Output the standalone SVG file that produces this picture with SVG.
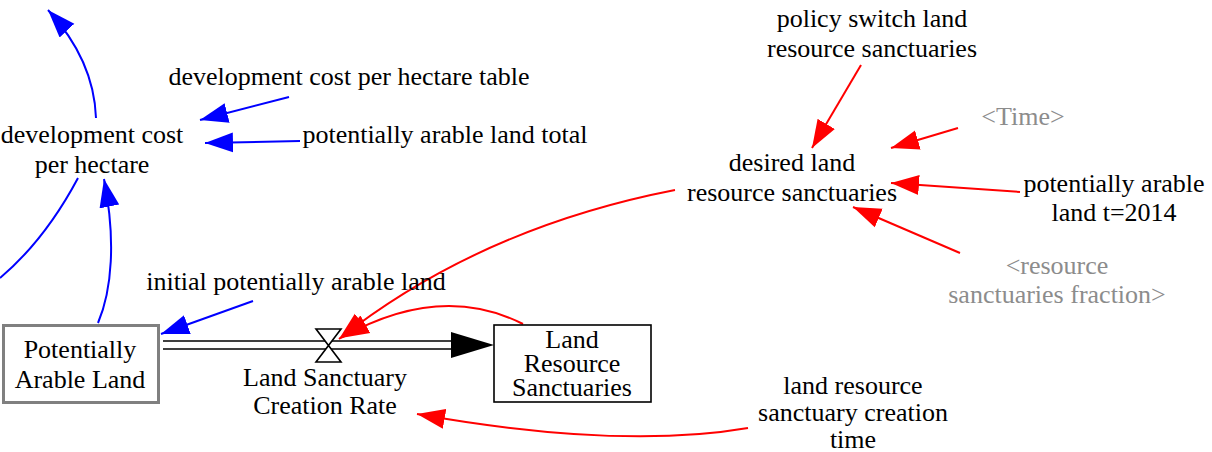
<svg xmlns="http://www.w3.org/2000/svg" width="1212" height="452" viewBox="0 0 1212 452">
<defs>
<style>
text{font-family:'Liberation Serif','Times New Roman',serif;font-size:26px;fill:#000;text-anchor:middle}
text.shadow{fill:#8c8c8c}
.blue{fill:none;stroke:#0000ff;stroke-width:2}
.red{fill:none;stroke:#ff0000;stroke-width:2}
.pipe{fill:none;stroke:#000;stroke-width:1.6}
</style>
<marker id="ab" markerUnits="userSpaceOnUse" markerWidth="29" markerHeight="22" refX="28" refY="11" orient="auto"><path d="M0,1 L28,11 L0,21 z" fill="#0000ff"/></marker>
<marker id="ar" markerUnits="userSpaceOnUse" markerWidth="29" markerHeight="22" refX="28" refY="11" orient="auto"><path d="M0,1 L28,11 L0,21 z" fill="#ff0000"/></marker>
<marker id="ak" markerUnits="userSpaceOnUse" markerWidth="44" markerHeight="28" refX="43" refY="14" orient="auto"><path d="M0,1 L43,14 L0,27 z" fill="#000"/></marker>
</defs>
<rect width="1212" height="452" fill="#fff"/>
<g id="connectors">
<path class="blue" d="M96,118 Q94,60 48,10" marker-end="url(#ab)"/>
<path class="blue" d="M289,97 L200,120" marker-end="url(#ab)"/>
<path class="blue" d="M300,141 L205,143" marker-end="url(#ab)"/>
<path class="blue" d="M78,178 Q45,240 0,278"/>
<path class="blue" d="M98,323 C112,290 116,240 104,179" marker-end="url(#ab)"/>
<path class="blue" d="M253,301 L161,334" marker-end="url(#ab)"/>
<path class="red" d="M861,65 L812,148" marker-end="url(#ar)"/>
<path class="red" d="M958,128 L891,148" marker-end="url(#ar)"/>
<path class="red" d="M1020,192 L891,183" marker-end="url(#ar)"/>
<path class="red" d="M960,253 L853,207" marker-end="url(#ar)"/>
<path class="red" d="M675,190 Q480,228 339,339" marker-end="url(#ar)"/>
<path class="red" d="M523,324 Q440,282 341,338" marker-end="url(#ar)"/>
<path class="red" d="M748,428 Q620,450 417,414" marker-end="url(#ar)"/>
<path class="pipe" d="M163,341 L455,341 M163,349 L455,349"/>
<path d="M455,345 L494,345" stroke="none" marker-end="url(#ak)"/>
</g>
<g id="potentially-arable-land">
<rect x="3.5" y="325.5" width="155" height="77" fill="#fff" stroke="#808080" stroke-width="3"/>
<text x="80" y="358">Potentially</text>
<text x="80" y="388">Arable Land</text>
</g>
<g id="land-resource-sanctuaries">
<rect x="494" y="325" width="157" height="77" fill="#fff" stroke="#000" stroke-width="1.6"/>
<text x="572" y="348">Land</text>
<text x="572" y="372">Resource</text>
<text x="572" y="396">Sanctuaries</text>
</g>
<g id="land-sanctuary-creation-rate">
<path d="M316,329 L341,329 L316,362 L341,362 z" fill="#fff" stroke="#000" stroke-width="1.6"/>
<text x="325" y="386">Land Sanctuary</text>
<text x="325" y="414">Creation Rate</text>
</g>
<g id="development-cost-per-hectare">
<text x="92" y="143">development cost</text>
<text x="92" y="173">per hectare</text>
</g>
<g id="development-cost-per-hectare-table">
<text x="349" y="85">development cost per hectare table</text>
</g>
<g id="potentially-arable-land-total">
<text x="445" y="143">potentially arable land total</text>
</g>
<g id="initial-potentially-arable-land">
<text x="296" y="290">initial potentially arable land</text>
</g>
<g id="policy-switch">
<text x="872" y="27">policy switch land</text>
<text x="872" y="57">resource sanctuaries</text>
</g>
<g id="time">
<text class="shadow" x="1023" y="125">&lt;Time&gt;</text>
</g>
<g id="desired-land-resource-sanctuaries">
<text x="792" y="171">desired land</text>
<text x="792" y="201">resource sanctuaries</text>
</g>
<g id="potentially-arable-land-t2014">
<text x="1114" y="192">potentially arable</text>
<text x="1114" y="221">land t=2014</text>
</g>
<g id="resource-sanctuaries-fraction">
<text class="shadow" x="1057" y="274">&lt;resource</text>
<text class="shadow" x="1057" y="303">sanctuaries fraction&gt;</text>
</g>
<g id="land-resource-sanctuary-creation-time">
<text x="853" y="394">land resource</text>
<text x="853" y="421">sanctuary creation</text>
<text x="853" y="448">time</text>
</g>
</svg>
